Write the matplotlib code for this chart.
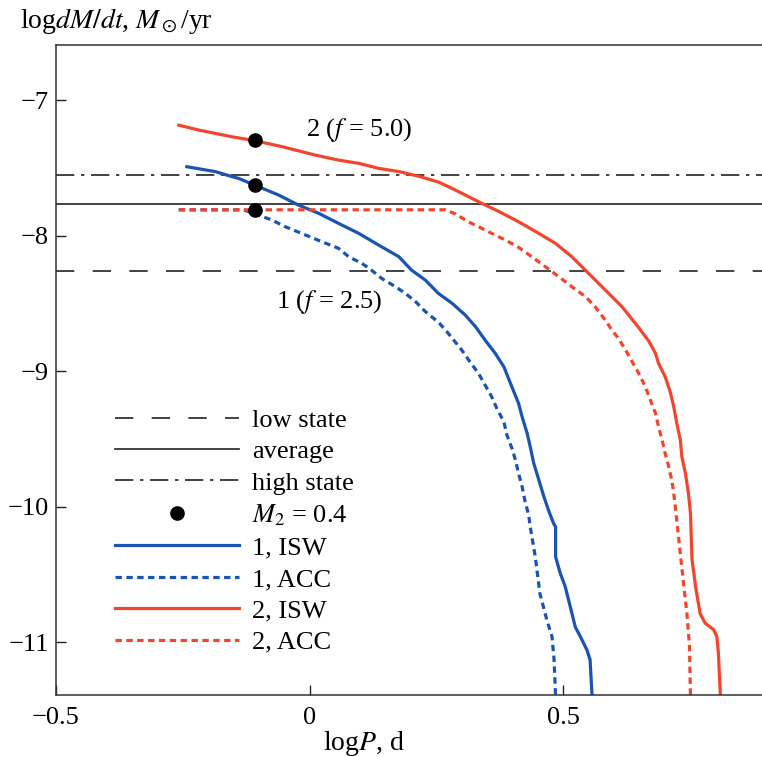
import matplotlib
matplotlib.use('Agg')
import matplotlib.pyplot as plt
import numpy as np

plt.rcParams['font.family'] = ['Liberation Serif', 'DejaVu Serif']
plt.rcParams['mathtext.fontset'] = 'stix'

# 水平线: 低态 / 平均 / 高态 (log dM/dt)
low_state = -8.26
average = -7.77
high_state = -7.55

# M2 = 0.4 的点
dot_logp = [-0.108, -0.108, -0.108]
dot_mdot = [-7.295, -7.627, -7.81]

# 1, ISW
isw1_x = [-0.242, -0.186, -0.153, -0.140, -0.101, -0.061, -0.022, 0.018, 0.057, 0.097, 0.136,
          0.176, 0.201, 0.228, 0.254, 0.281, 0.307, 0.327, 0.346, 0.366, 0.383, 0.396,
          0.412, 0.419, 0.429, 0.435, 0.442, 0.452, 0.462, 0.471, 0.481, 0.485, 0.485, 0.494,
          0.504, 0.514, 0.524, 0.534, 0.547, 0.553, 0.557]
isw1_y = [-7.492, -7.528, -7.565, -7.578, -7.639, -7.701, -7.775, -7.836, -7.910, -7.984, -8.070,
          -8.156, -8.255, -8.328, -8.427, -8.50, -8.587, -8.672, -8.771, -8.869, -8.968, -9.09,
          -9.238, -9.337, -9.460, -9.558, -9.681, -9.804, -9.927, -10.026, -10.124, -10.149, -10.37, -10.49,
          -10.59, -10.74, -10.89, -10.96, -11.06, -11.13, -11.40]

# 1, ACC
acc1_x = [-0.258, -0.13, -0.101, -0.074, -0.048, -0.008, 0.024, 0.057, 0.077, 0.103, 0.122, 0.142,
          0.169, 0.189, 0.209, 0.228, 0.254, 0.268, 0.284, 0.300, 0.316, 0.333, 0.346, 0.359,
          0.369, 0.383, 0.389, 0.399, 0.406, 0.412, 0.419, 0.425, 0.432, 0.435, 0.445, 0.454,
          0.468, 0.478, 0.482, 0.485]
acc1_y = [-7.81, -7.81, -7.849, -7.886, -7.935, -7.996, -8.045, -8.094, -8.156, -8.205, -8.255, -8.316,
          -8.377, -8.427, -8.488, -8.56, -8.64, -8.697, -8.771, -8.845, -8.931, -9.017, -9.103, -9.189,
          -9.275, -9.374, -9.472, -9.571, -9.657, -9.755, -9.853, -9.964, -10.063, -10.149, -10.37, -10.64,
          -10.84, -10.96, -11.13, -11.40]

# 2, ISW
isw2_x = [-0.258, -0.219, -0.153, -0.108, -0.054, 0.011, 0.057, 0.097, 0.136, 0.176, 0.215, 0.254,
          0.281, 0.307, 0.340, 0.373, 0.412, 0.452, 0.485, 0.517, 0.550, 0.583, 0.616, 0.649, 0.669,
          0.682, 0.688, 0.701, 0.711, 0.718, 0.724, 0.731, 0.734, 0.741, 0.747, 0.751, 0.754,
          0.761, 0.770, 0.780, 0.797, 0.803, 0.806, 0.810]
isw2_y = [-7.185, -7.221, -7.271, -7.30, -7.344, -7.406, -7.443, -7.467, -7.504, -7.528, -7.562, -7.605,
          -7.652, -7.701, -7.763, -7.822, -7.898, -7.984, -8.058, -8.156, -8.279, -8.402, -8.525, -8.68, -8.78,
          -8.869, -8.943, -9.041, -9.152, -9.263, -9.386, -9.509, -9.632, -9.755, -9.903, -10.05, -10.39,
          -10.59, -10.79, -10.86, -10.91, -10.96, -11.08, -11.40]

# 2, ACC
acc2_x = [-0.258, 0.268, 0.287, 0.314, 0.336, 0.359, 0.386, 0.412, 0.438, 0.465, 0.491,
          0.517, 0.544, 0.563, 0.583, 0.596, 0.609, 0.623, 0.636, 0.649, 0.662, 0.672, 0.682,
          0.688, 0.695, 0.701, 0.708, 0.714, 0.718, 0.721, 0.724, 0.731, 0.738, 0.744, 0.749, 0.751]
acc2_y = [-7.81, -7.81, -7.84, -7.90, -7.94, -7.984, -8.033, -8.087, -8.156, -8.230, -8.303,
          -8.377, -8.451, -8.525, -8.624, -8.697, -8.759, -8.845, -8.931, -9.017, -9.115, -9.214, -9.312,
          -9.410, -9.509, -9.607, -9.705, -9.804, -9.903, -10.001, -10.10, -10.35, -10.59, -10.79, -11.03, -11.40]

blue = '#1b53b3'
red = '#f2452e'

fig = plt.figure(figsize=(7.62, 7.57), dpi=100)
ax = fig.add_axes([0.0735, 0.082, 0.9265, 0.8585])

l_low = ax.axhline(low_state, color='#222222', lw=1.2, ls=(0, (11, 11)))
l_avg = ax.axhline(average, color='#222222', lw=1.2, ls='-')
l_high = ax.axhline(high_state, color='#222222', lw=1.2, ls=(0, (11, 4, 2, 4)))

dash = (0, (2.0, 1.4))
l1, = ax.plot(isw1_x, isw1_y, color=blue, lw=2.3)
l2, = ax.plot(acc1_x, acc1_y, color=blue, lw=2.3, ls=dash)
l3, = ax.plot(isw2_x, isw2_y, color=red, lw=2.3)
l4, = ax.plot(acc2_x, acc2_y, color=red, lw=2.3, ls=dash)
pts, = ax.plot(dot_logp, dot_mdot, 'o', color='black', ms=9.5, ls='none', zorder=5)

ax.text(-0.008, -7.22, r'2 ($f$ = 5.0)', fontsize=19, va='center', ha='left')
ax.text(-0.067, -8.49, r'1 ($f$ = 2.5)', fontsize=19, va='center', ha='left')

ax.set_xlim(-0.5, 0.892)
ax.set_ylim(-11.39, -6.594)
ax.set_xticks([-0.5, 0, 0.5])
ax.set_xticklabels(['\u22120.5', '0', '0.5'])
ax.set_yticks([-7, -8, -9, -10, -11])
ax.set_yticklabels(['\u22127', '\u22128', '\u22129', '\u221210', '\u221211'])
ax.tick_params(direction='in', length=7, width=1, labelsize=19,
               top=False, right=False, colors='#222222', labelcolor='black')
ax.tick_params(axis='y', pad=5)
ax.tick_params(axis='x', pad=9)

ax.spines['right'].set_visible(False)
for s in ['left', 'bottom', 'top']:
    ax.spines[s].set_color('#333333')
    ax.spines[s].set_linewidth(1.1)

leg = ax.legend([l_low, l_avg, l_high, pts, l1, l2, l3, l4],
                ['low state', 'average', 'high state', r'$M_2$ = 0.4',
                 '1, ISW', '1, ACC', '2, ISW', '2, ACC'],
                loc='upper left', bbox_to_anchor=(0.068, 0.457), frameon=False,
                fontsize=19, handlelength=4.7, handletextpad=0.5, labelspacing=0.3,
                borderaxespad=0)

fig.text(0.026, 0.972, r'log$dM/dt$, $M_\odot$/yr', fontsize=20, va='center', ha='left')
fig.text(0.478, 0.018, r'log$P$, d', fontsize=20, va='center', ha='center')

fig.savefig('out.png', dpi=100)
